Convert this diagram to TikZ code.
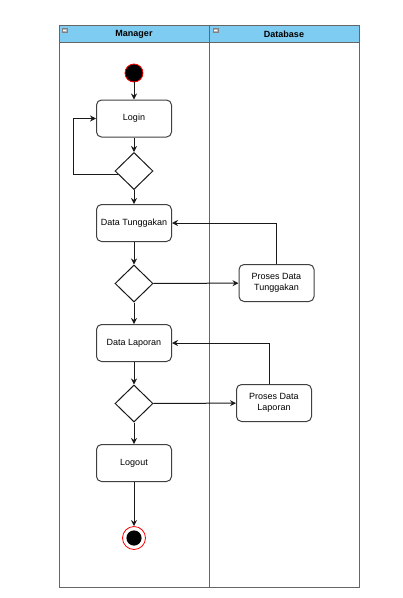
\documentclass[tikz,border=0pt]{standalone}
\usepackage{fontspec}
\setmainfont{Liberation Sans}
\usetikzlibrary{shapes.geometric,arrows.meta}
\definecolor{lanehead}{HTML}{7ECCF2}
\begin{document}
\begin{tikzpicture}[x=1pt,y=-1pt,->,>={Stealth[length=6pt,width=6pt,inset=2pt]},draw=black!90,line width=1pt]
	\fontsize{9}{11}\selectfont
	\def \lanetop{25}
	\def \lanehd{42}
	\def \lanebot{587}
	\def \midx{134}

	\tikzstyle{act}=[rectangle,rounded corners=5pt,draw=black!75,line width=1pt,minimum width=75pt,minimum height=37pt,inner sep=2pt,align=center]
	\tikzstyle{decide}=[diamond,draw=black!90,line width=1pt,minimum width=38pt,minimum height=37pt,inner sep=0pt]
	\tikzstyle{initial}=[circle,fill=black,draw=red,line width=0.8pt,minimum size=18pt,inner sep=0pt]
	\tikzstyle{final}=[circle,fill=white,draw=red,line width=0.8pt,minimum size=23pt,inner sep=0pt,
		path picture={\fill[black] (path picture bounding box.center) circle (7.6pt);}]
	\tikzstyle{lane}=[draw=black!60,line width=1pt,-]
	\tikzstyle{head}=[font=\bfseries]
	\tikzstyle{icon}=[rectangle,draw=black!50,fill=black!30,line width=0.6pt,minimum width=5pt,minimum height=4.5pt,inner sep=0pt,
		path picture={\draw[white,-] ([xshift=1pt]path picture bounding box.west) -- ([xshift=-1pt]path picture bounding box.east);}]

	\useasboundingbox (0,0) rectangle (403,598);

	% swimlanes
	\fill[lanehead] (59,\lanetop) rectangle (359,\lanehd);
	\draw[lane] (59,\lanetop) rectangle (359,\lanebot);
	\draw[lane] (59,\lanehd) -- (359,\lanehd);
	\draw[lane] (209,\lanetop) -- (209,\lanebot);
	\node[icon] (ic1) at (64.5,30.5) {};
	\node[icon] (ic2) at (215.5,30.5) {};
	\node[head] (manager) at (134,34.5) {Manager};
	\node[head] (database) at (284,34.5) {Database};

	% manager lane
	\node[initial] 	(start)	at (\midx,73)	{};
	\node[act] 	(login)	at (\midx,118.5)	{Login};
	\node[decide] 	(d1)	at (\midx,171)	{};
	\node[act] 	(tunggak)	at (\midx,223)	{Data Tunggakan};
	\node[decide] 	(d2)	at (\midx,283.5)	{};
	\node[act] 	(laporan)	at (\midx,343)	{Data Laporan};
	\node[decide] 	(d3)	at (\midx,403.5)	{};
	\node[act] 	(logout)	at (\midx,463)	{Logout};
	\node[final] 	(end)	at (\midx,538)	{};

	% database lane
	\node[act] 	(ptunggak)	at (276.5,283)	{Proses Data\\Tunggakan};
	\node[act] 	(plaporan)	at (274,403)	{Proses Data\\Laporan};

	\path
		(start)	edge	(login)
		(login)	edge	(d1)
		(d1)	edge	(tunggak)
		(tunggak)	edge	(d2)
		(d2)	edge	(laporan)
		(d2)	edge	(ptunggak)
		(laporan)	edge	(d3)
		(d3)	edge	(logout)
		(d3)	edge	(plaporan)
		(logout)	edge	(end);

	\draw ([shift={(3pt,-3pt)}]d1.west) -- ++(-44,0) |- (login.west);
	\draw (ptunggak.north) |- (tunggak.east);
	\draw ([xshift=-5pt]plaporan.north) |- (laporan.east);
\end{tikzpicture}
\end{document}
